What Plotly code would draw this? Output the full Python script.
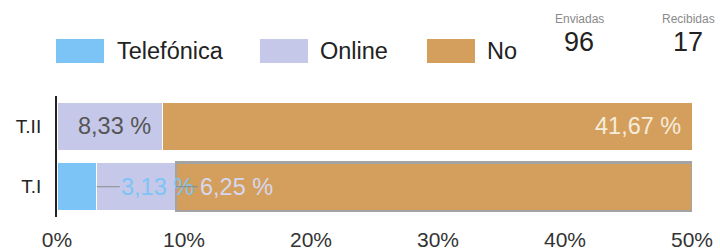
import plotly.graph_objects as go

categories = ["T.I", "T.II"]
series_names = ["Telefónica", "Online", "No"]
telefonica = [3.13, 0.0]
online = [6.25, 8.33]
no = [40.63, 41.67]
x_tick_vals = [0, 10, 20, 30, 40, 50]
x_tick_text = ["0%", "10%", "20%", "30%", "40%", "50%"]
enviadas = 96
recibidas = 17

colors = {"Telefónica": "#7cc4f6", "Online": "#c5c8e8", "No": "#d49f5c"}
FONT = "Liberation Sans, Arial, sans-serif"

W, H = 720, 252
ML, MR, MT, MB = 57, 28, 96, 35
PW, PH = W - ML - MR, H - MT - MB


def px2x(px):
    return (px - ML) / PW


def px2y(py):
    return (H - MB - py) / PH


def fmt(v):
    return f"{v:.2f}".replace(".", ",") + " %"


fig = go.Figure()
values = {"Telefónica": telefonica, "Online": online, "No": no}
for name in series_names:
    vals = values[name]
    line_colors = ["#ffffff"] * len(vals)
    line_widths = [1] * len(vals)
    if name == "No":
        line_colors[0] = "#a3a3a3"
        line_widths[0] = 2.5
    fig.add_trace(go.Bar(
        y=categories, x=vals, name=name, orientation="h",
        marker=dict(color=colors[name], line=dict(color=line_colors, width=line_widths)),
        showlegend=False, hoverinfo="skip",
    ))

LBL = 23.5
annotations = []
shapes = []
for i, cat in enumerate(categories):
    t, o, n = telefonica[i], online[i], no[i]
    cum_t = t
    cum_o = t + o
    cum_n = t + o + n
    annotations.append(dict(x=cum_n, y=cat, xref="x", yref="y", text=fmt(n), showarrow=False,
                            xanchor="right", xshift=-9, font=dict(size=LBL, color="#f6ecdc", family=FONT)))
    if t > 0:
        annotations.append(dict(x=cum_t, y=cat, xref="x", yref="y", text=fmt(t), showarrow=True,
                                ax=61, ay=0, arrowhead=0, arrowwidth=1, arrowcolor="#8a8a8a",
                                font=dict(size=LBL, color="#7cc4f6", family=FONT)))
        annotations.append(dict(x=cum_o, y=cat, xref="x", yref="y", text=fmt(o), showarrow=True,
                                ax=60, ay=0, arrowhead=0, arrowwidth=1, arrowcolor="#8a8a8a",
                                font=dict(size=LBL, color="#d6d7ef", family=FONT)))
    else:
        annotations.append(dict(x=cum_o, y=cat, xref="x", yref="y", text=fmt(o), showarrow=False,
                                xanchor="right", xshift=-10, font=dict(size=LBL, color="#555555", family=FONT)))

legend_pos = [(56, 115), (260, 318), (427, 485)]
for name, (sx, tx) in zip(series_names, legend_pos):
    shapes.append(dict(type="rect", xref="paper", yref="paper",
                       x0=px2x(sx), x1=px2x(sx + 48), y0=px2y(63), y1=px2y(39),
                       fillcolor=colors[name], line=dict(width=0)))
    annotations.append(dict(x=px2x(tx), y=px2y(51), xref="paper", yref="paper", text=name,
                            showarrow=False, xanchor="left", yanchor="middle",
                            font=dict(size=23.5, color="#222222", family=FONT)))

for label, val, cx in [("Enviadas", enviadas, 579), ("Recibidas", recibidas, 688)]:
    annotations.append(dict(x=px2x(cx), y=px2y(19), xref="paper", yref="paper", text=label,
                            showarrow=False, xanchor="center", yanchor="middle",
                            font=dict(size=12, color="#8a8a8a", family=FONT)))
    annotations.append(dict(x=px2x(cx), y=px2y(42), xref="paper", yref="paper", text=str(val),
                            showarrow=False, xanchor="center", yanchor="middle",
                            font=dict(size=27, color="#222222", family=FONT)))

fig.update_layout(
    width=W, height=H,
    margin=dict(l=ML, r=MR, t=MT, b=MB, autoexpand=False),
    paper_bgcolor="white", plot_bgcolor="white",
    barmode="stack", bargap=0.2,
    font=dict(family=FONT),
    annotations=annotations, shapes=shapes,
    xaxis=dict(range=[0, 50], tickvals=x_tick_vals, ticktext=x_tick_text, showgrid=False,
               zeroline=False, showline=False, ticks="outside", ticklen=4, tickcolor="rgba(0,0,0,0)",
               automargin=False,
               tickfont=dict(size=21, color="#333333", family=FONT), fixedrange=True),
    yaxis=dict(categoryorder="array", categoryarray=categories, showgrid=False, zeroline=False,
               showline=True, linecolor="#222222", linewidth=2, ticks="outside", ticklen=10,
               tickcolor="rgba(0,0,0,0)", automargin=False,
               tickfont=dict(size=19, color="#222222", family=FONT), fixedrange=True),
)

fig.write_html("out.html", config={"displayModeBar": False},
               post_script="document.body.style.margin='0';document.body.style.overflow='hidden';")
